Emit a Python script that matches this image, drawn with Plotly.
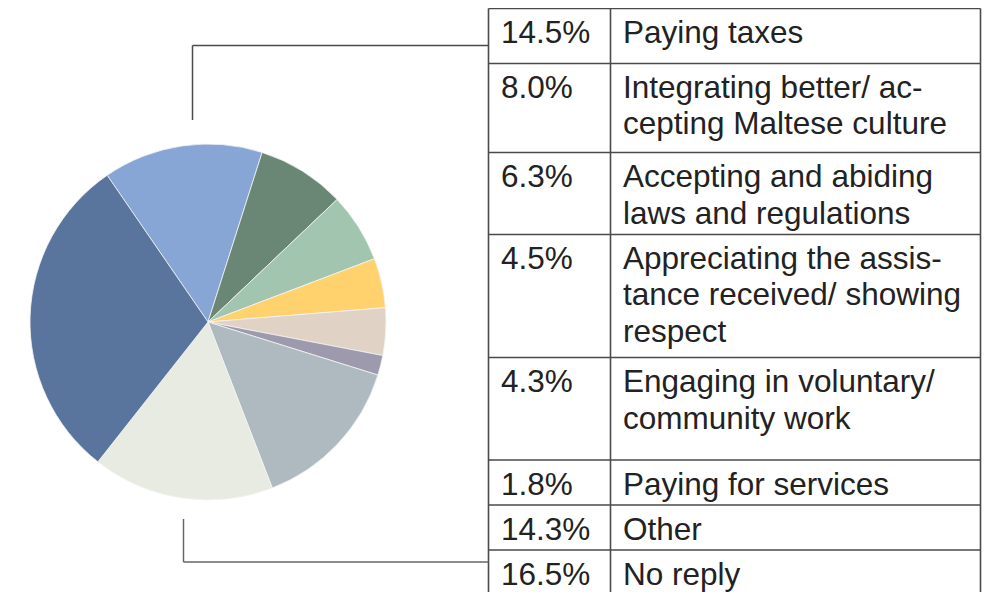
import plotly.graph_objects as go

# ---- data ----
categories = ["Paying taxes", "Integrating better/ accepting Maltese culture",
              "Accepting and abiding laws and regulations",
              "Appreciating the assistance received/ showing respect",
              "Engaging in voluntary/ community work", "Paying for services",
              "Other", "No reply", "Unlisted"]
values = [14.5, 8.0, 6.3, 4.5, 4.3, 1.8, 14.3, 16.5, 29.8]
colors = ["#87A6D5", "#6A8775", "#A2C5B0", "#FFD26E", "#E0D3C6",
          "#9D9AAD", "#AFBAC0", "#E7EBE1", "#59759D"]
pct_labels = ["14.5%", "8.0%", "6.3%", "4.5%", "4.3%", "1.8%", "14.3%", "16.5%"]
row_lines = [
    ["Paying taxes"],
    ["Integrating better/ ac-", "cepting Maltese culture"],
    ["Accepting and abiding", "laws and regulations"],
    ["Appreciating the assis-", "tance received/ showing", "respect"],
    ["Engaging in voluntary/", "community work"],
    ["Paying for services"],
    ["Other"],
    ["No reply"],
]

W, H = 998, 592
OFF = 8  # page body margin
def px(x):
    return (x - OFF) / W
def py(y):
    return 1 - (y - OFF) / H

fig = go.Figure()
cx, cy, r = 208, 322, 178
fig.add_trace(go.Pie(
    values=values, labels=categories, sort=False, direction="clockwise",
    rotation=-34.5, textinfo="none", hoverinfo="label+percent",
    marker=dict(colors=colors, line=dict(color="#F4F4F4", width=0.8)),
    domain=dict(x=[px(cx - r), px(cx + r)], y=[py(cy + r), py(cy - r)]),
    showlegend=False,
))

line_col = "#4A4A4A"
shapes = []
def seg(x0, y0, x1, y1, w=1.6, c=line_col):
    shapes.append(dict(type="line", xref="paper", yref="paper",
                       x0=px(x0), y0=py(y0), x1=px(x1), y1=py(y1),
                       line=dict(color=c, width=w)))

# table grid
tx0, tx1, tx2 = 488.5, 610.5, 980.5
row_tops = [8.5, 63.5, 152.5, 234.5, 357.5, 460, 505, 550]
for yt in row_tops:
    seg(tx0, yt, tx2, yt)
for xv in (tx0, tx1, tx2):
    seg(xv, row_tops[0], xv, 600)

# connector lines
seg(192.5, 120, 192.5, 45.5, 1.5)
seg(192.5, 45.5, tx0, 45.5, 1.5)
seg(183.5, 519, 183.5, 562, 1.5, "#666666")
seg(183.5, 562, tx0, 562, 1.5, "#666666")

annotations = []
fs = 31.5
font = dict(family="Liberation Sans, Arial, Helvetica, sans-serif", size=fs, color="#222222")
for i, top in enumerate(row_tops):
    base = top + 34.5
    annotations.append(dict(text=pct_labels[i], x=px(498.5), y=py(base - 11),
                            xref="paper", yref="paper", xanchor="left", yanchor="middle",
                            showarrow=False, font=font))
    for j, ln in enumerate(row_lines[i]):
        b = base + j * 36.5
        annotations.append(dict(text=ln, x=px(620.5), y=py(b - 11),
                                xref="paper", yref="paper", xanchor="left", yanchor="middle",
                                showarrow=False, font=font))

fig.update_layout(width=W, height=H, margin=dict(l=0, r=0, t=0, b=0),
                  paper_bgcolor="white", plot_bgcolor="white",
                  shapes=shapes, annotations=annotations)
fig.write_html("out.html")
